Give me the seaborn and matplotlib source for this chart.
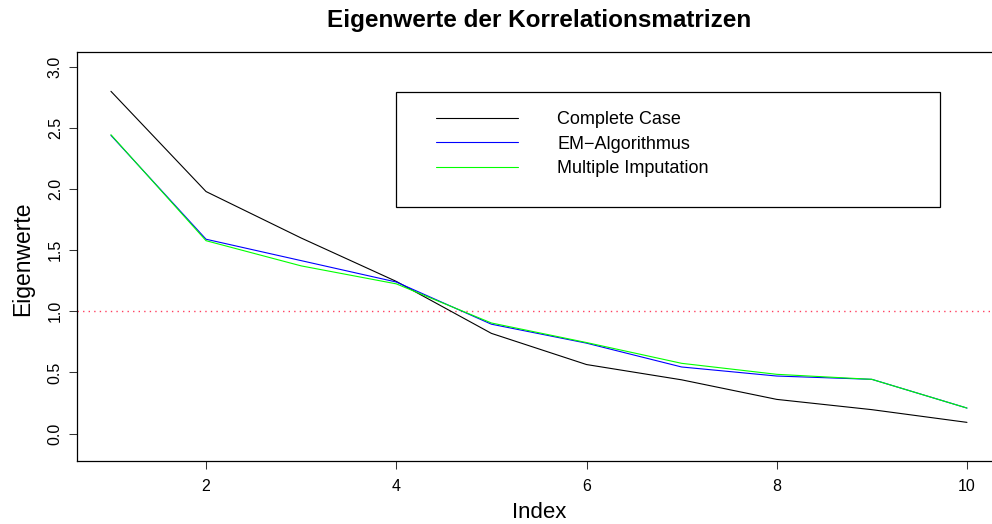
import matplotlib
matplotlib.use("Agg")
import matplotlib.pyplot as plt
import seaborn as sns
import pandas as pd
from matplotlib.lines import Line2D
from matplotlib.patches import Rectangle

# ---- data ----
index = [1, 2, 3, 4, 5, 6, 7, 8, 9, 10]
complete_case = [2.80, 1.98, 1.60, 1.245, 0.82, 0.565, 0.44, 0.28, 0.196, 0.092]
em_algorithmus = [2.44, 1.59, 1.415, 1.24, 0.895, 0.74, 0.545, 0.471, 0.444, 0.209]
multiple_imputation = [2.445, 1.578, 1.372, 1.225, 0.905, 0.745, 0.575, 0.485, 0.444, 0.209]
series_names = ["Complete Case", "EM\u2212Algorithmus", "Multiple Imputation"]
series_colors = ["#000000", "#0000FF", "#00FF00"]
reference_level = 1.0
title = "Eigenwerte der Korrelationsmatrizen"
xlabel = "Index"
ylabel = "Eigenwerte"

df = pd.DataFrame({
    "Index": index * 3,
    "Eigenwerte": complete_case + em_algorithmus + multiple_imputation,
    "Methode": [series_names[0]] * 10 + [series_names[1]] * 10 + [series_names[2]] * 10,
})

sns.set_style("white")
plt.rcParams["font.family"] = ["Liberation Sans", "DejaVu Sans"]
plt.rcParams["text.color"] = "black"
plt.rcParams["axes.labelcolor"] = "black"
plt.rcParams["xtick.color"] = "black"
plt.rcParams["ytick.color"] = "black"

W, H = 992, 524
fig = plt.figure(figsize=(W / 100, H / 100), dpi=100)
# axes box in pixel coordinates (right side extends past the figure)
left_px, right_px, top_px, bottom_px = 76.7, 1001.2, 51.7, 461.0
ax = fig.add_axes([left_px / W, 1 - bottom_px / H,
                   (right_px - left_px) / W, (bottom_px - top_px) / H])

ax.axhline(reference_level, color="#ff4060", lw=1.0, ls=(0, (1, 3)), zorder=1)

sns.lineplot(data=df, x="Index", y="Eigenwerte", hue="Methode",
             palette=dict(zip(series_names, series_colors)),
             hue_order=series_names, estimator=None, lw=0.8,
             legend=False, ax=ax, zorder=2)

ax.set_xlim(0.64, 10.36)
ax.set_ylim(-0.224, 3.124)
ax.set_xticks([2, 4, 6, 8, 10])
ax.set_yticks([0.0, 0.5, 1.0, 1.5, 2.0, 2.5, 3.0])
ax.set_yticklabels([f"{v:.1f}" for v in [0.0, 0.5, 1.0, 1.5, 2.0, 2.5, 3.0]],
                   rotation=90, va="center")
ax.tick_params(axis="both", which="major", direction="out", length=6,
               width=0.75, color="#333333", labelcolor="black", labelsize=11.5,
               left=True, bottom=True)
ax.tick_params(axis="x", pad=7)
ax.tick_params(axis="y", pad=4)

for s in ax.spines.values():
    s.set_color("black")
    s.set_linewidth(0.9)
ax.spines["right"].set_visible(False)

ax.set_xlabel(xlabel, fontsize=16)
ax.set_ylabel(ylabel, fontsize=16.5)
axh = bottom_px - top_px
axw = right_px - left_px
ax.xaxis.set_label_coords((539.4 - left_px) / axw, -(512 - bottom_px) / axh)
ax.xaxis.label.set_va("center")
ax.yaxis.set_label_coords(-(left_px - 23) / axw, (bottom_px - 259) / axh)
ax.yaxis.label.set_va("center")

fig.text(539.4 / W, 1 - 20 / H, title, ha="center", va="center",
         fontsize=17.5, fontweight="bold", color="black")

# legend
handles = [Line2D([0], [0], color=c, lw=0.8) for c in series_colors]
leg = ax.legend(handles, series_names, loc="upper left",
                bbox_to_anchor=(436.4 / W, 1 - 111.0 / H),
                bbox_transform=fig.transFigure, frameon=False,
                fontsize=13, borderpad=0, handlelength=4.5,
                handletextpad=2.2, labelspacing=0.42, borderaxespad=0)
for t in leg.get_texts():
    t.set_color("black")
rect = Rectangle((396.4 / W, 1 - 206.8 / H), (940 - 396.4) / W, (206.8 - 91.8) / H,
                 transform=fig.transFigure, fill=False, edgecolor="black",
                 lw=0.9, zorder=5)
fig.patches.append(rect)

fig.savefig("out.png", dpi=100)
